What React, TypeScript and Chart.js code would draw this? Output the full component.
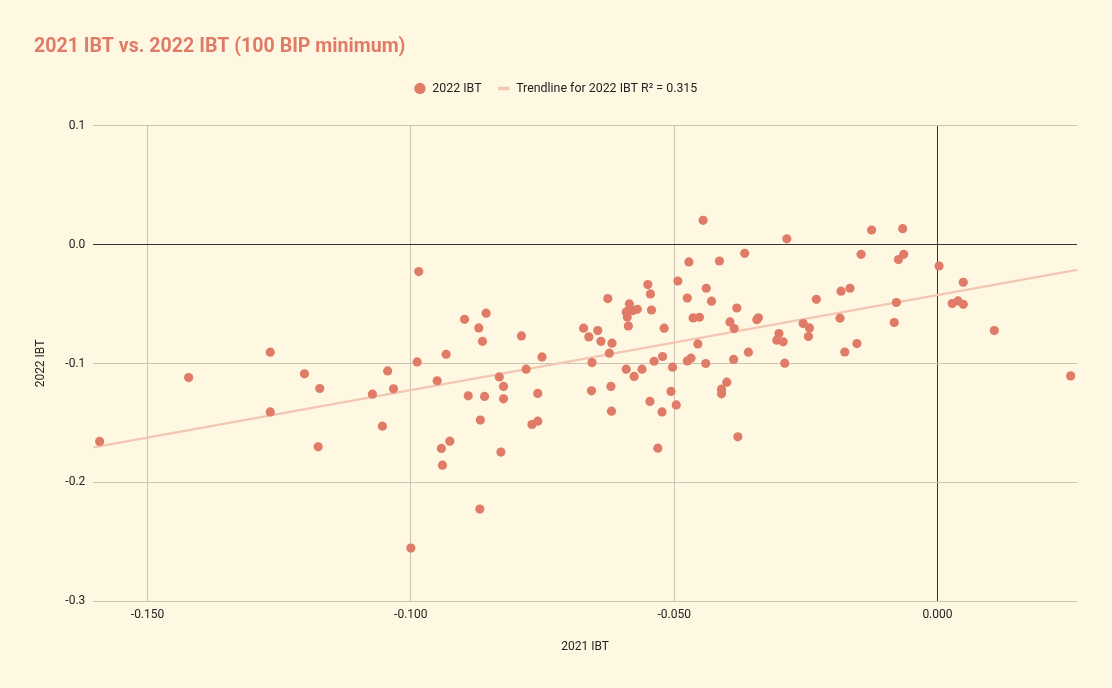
import { useEffect, useRef } from 'react'
import { Chart, registerables, type Plugin } from 'chart.js'

Chart.register(...registerables)

// ─── Data ──────────────────────────────────────────────────────────────────

const ibt2021 = [
  -0.1591, -0.1422, -0.1267, -0.1267, -0.1202, -0.1173, -0.1176, -0.1073, -0.1054, -0.1044,
  -0.1033, -0.1000, -0.0985, -0.0988, -0.0950, -0.0898, -0.0857, -0.0871, -0.0864, -0.0790,
  -0.0933, -0.0751, -0.0781, -0.0832, -0.0824, -0.0891, -0.0860, -0.0824, -0.0759, -0.0868,
  -0.0770, -0.0759, -0.0926, -0.0942, -0.0829, -0.0940, -0.0869, -0.0550, -0.0493, -0.0626,
  -0.0545, -0.0585, -0.0591, -0.0578, -0.0570, -0.0543, -0.0589, -0.0587, -0.0475, -0.0439,
  -0.0429, -0.0464, -0.0452, -0.0381, -0.0394, -0.0386, -0.0672, -0.0645, -0.0662, -0.0639,
  -0.0618, -0.0519, -0.0623, -0.0455, -0.0359, -0.0656, -0.0522, -0.0538, -0.0475, -0.0468,
  -0.0440, -0.0387, -0.0503, -0.0591, -0.0561, -0.0576, -0.0400, -0.0410, -0.0410, -0.0657,
  -0.0620, -0.0506, -0.0546, -0.0496, -0.0523, -0.0619, -0.0379, -0.0531, -0.0445, -0.0286,
  -0.0366, -0.0472, -0.0414, -0.0230, -0.0343, -0.0340, -0.0255, -0.0243, -0.0125, -0.0066,
  -0.0145, -0.0074, -0.0064, 0.0003, -0.0183, -0.0166, -0.0078, -0.0185, -0.0301, -0.0245,
  -0.0305, -0.0293, -0.0082, -0.0176, -0.0153, -0.0290, 0.0049, 0.0028, 0.0039, 0.0049,
  0.0108, 0.0253,
]

const ibt2022 = [
  -0.1655, -0.1118, -0.0905, -0.1407, -0.1087, -0.1210, -0.1701, -0.1258, -0.1527, -0.1062,
  -0.1213, -0.2552, -0.0227, -0.0987, -0.1145, -0.0628, -0.0577, -0.0701, -0.0813, -0.0768,
  -0.0922, -0.0945, -0.1048, -0.1113, -0.1193, -0.1272, -0.1277, -0.1297, -0.1252, -0.1476,
  -0.1513, -0.1485, -0.1653, -0.1714, -0.1745, -0.1855, -0.2224, -0.0336, -0.0306, -0.0454,
  -0.0415, -0.0499, -0.0566, -0.0555, -0.0544, -0.0550, -0.0608, -0.0684, -0.0449, -0.0367,
  -0.0476, -0.0617, -0.0611, -0.0533, -0.0650, -0.0706, -0.0703, -0.0723, -0.0776, -0.0813,
  -0.0829, -0.0703, -0.0913, -0.0835, -0.0905, -0.0992, -0.0941, -0.0981, -0.0978, -0.0955,
  -0.1000, -0.0966, -0.1031, -0.1048, -0.1048, -0.1109, -0.1157, -0.1216, -0.1255, -0.1230,
  -0.1193, -0.1235, -0.1319, -0.1348, -0.1407, -0.1401, -0.1617, -0.1712, 0.0204, 0.0049,
  -0.0073, -0.0146, -0.0138, -0.0460, -0.0632, -0.0615, -0.0664, -0.0701, 0.0123, 0.0134,
  -0.0082, -0.0126, -0.0082, -0.0180, -0.0392, -0.0367, -0.0487, -0.0619, -0.0748, -0.0773,
  -0.0804, -0.0818, -0.0655, -0.0903, -0.0832, -0.0997, -0.0317, -0.0496, -0.0474, -0.0502,
  -0.0723, -0.1104,
]

// Trendline end points, as drawn in the reference
const trendX = [-0.1603, 0.0265]
const trendY = [-0.1706, -0.0212]

const xTicks = [-0.15, -0.1, -0.05, 0]
const yTicks = [-0.3, -0.2, -0.1, 0, 0.1]

const TITLE = '2021 IBT vs. 2022 IBT (100 BIP minimum)'
const SERIES_LABEL = '2022 IBT'
const TREND_LABEL = 'Trendline for 2022 IBT R² = 0.315'
const X_TITLE = '2021 IBT'
const Y_TITLE = '2022 IBT'

// ─── Styling ────────────────────────────────────────────────────────────────

const BG = '#FEF8E3'
const DOT = '#E07B67'
const TREND = '#F3C5B3'
const GRID = '#CCC4B2'
const ZERO = '#333333'
const TEXT = '#222222'
const LEGEND_GAP = 21

// extra room between the legend and the plot area
const legendGap: Plugin = {
  id: 'legendGap',
  beforeInit(chart) {
    const legend = (chart as any).legend
    if (!legend) return
    const fit = legend.fit
    legend.fit = function () {
      fit.call(this)
      this.height += LEGEND_GAP
    }
  },
}

const gridColor = (c: any) => (Math.abs(c.tick?.value ?? 1) < 1e-9 ? ZERO : GRID)

export default function App() {
  const canvasRef = useRef<HTMLCanvasElement>(null)

  useEffect(() => {
    const canvas = canvasRef.current
    if (!canvas) return
    Chart.defaults.font.family = 'Roboto'

    const chart = new Chart(canvas, {
      type: 'scatter',
      data: {
        datasets: [
          {
            label: SERIES_LABEL,
            data: ibt2021.map((x, i) => ({ x, y: ibt2022[i] })),
            backgroundColor: DOT,
            borderWidth: 0,
            pointRadius: 4.6,
            pointStyle: 'circle',
          },
          {
            type: 'line',
            label: TREND_LABEL,
            data: trendX.map((x, i) => ({ x, y: trendY[i] })),
            borderColor: TREND,
            borderWidth: 2.2,
            pointRadius: 0,
            pointStyle: 'line',
            pointBorderColor: TREND,
            pointBorderWidth: 3.5,
            fill: false,
          },
        ],
      },
      options: {
        animation: false,
        responsive: false,
        layout: { padding: { left: 34, right: 35, top: 0, bottom: 0 } },
        plugins: {
          title: {
            display: true,
            text: TITLE,
            align: 'start',
            color: DOT,
            font: { size: 19.6, weight: 'bold' },
            padding: { top: 35, bottom: 7.8 },
          },
          legend: {
            display: true,
            labels: {
              usePointStyle: true,
              boxHeight: 8,
              padding: 16,
              color: TEXT,
              font: { size: 12.4 },
            },
          },
          tooltip: { enabled: false },
        },
        scales: {
          x: {
            type: 'linear',
            min: -0.1603,
            max: 0.0265,
            afterBuildTicks: (s: any) => { s.ticks = xTicks.map(value => ({ value })) },
            afterFit: (s: any) => { s.height = 86.7 },
            ticks: {
              padding: 6,
              color: TEXT,
              font: { size: 12 },
              callback: (v: any) => Number(v).toFixed(3),
            },
            grid: { color: gridColor, drawTicks: false, lineWidth: 1 },
            border: { display: false },
            title: {
              display: true,
              text: X_TITLE,
              color: TEXT,
              font: { size: 12 },
              padding: { top: 0, bottom: 34 },
            },
          },
          y: {
            type: 'linear',
            min: -0.3,
            max: 0.1,
            afterBuildTicks: (s: any) => { s.ticks = yTicks.map(value => ({ value })) },
            afterFit: (s: any) => { s.width = 59.3 },
            ticks: {
              padding: 8,
              color: TEXT,
              font: { size: 12 },
              callback: (v: any) => Number(v).toFixed(1),
            },
            grid: { color: gridColor, drawTicks: false, lineWidth: 1 },
            border: { display: false },
            title: {
              display: true,
              text: Y_TITLE,
              color: TEXT,
              font: { size: 12 },
              padding: { top: 0, bottom: 0 },
            },
          },
        },
      },
      plugins: [legendGap],
    })

    return () => chart.destroy()
  }, [])

  return (
    <div style={{ position: 'absolute', left: 0, top: 0, width: 1112, height: 688, background: BG }}>
      <canvas ref={canvasRef} width={1112} height={688} style={{ display: 'block' }} />
    </div>
  )
}
